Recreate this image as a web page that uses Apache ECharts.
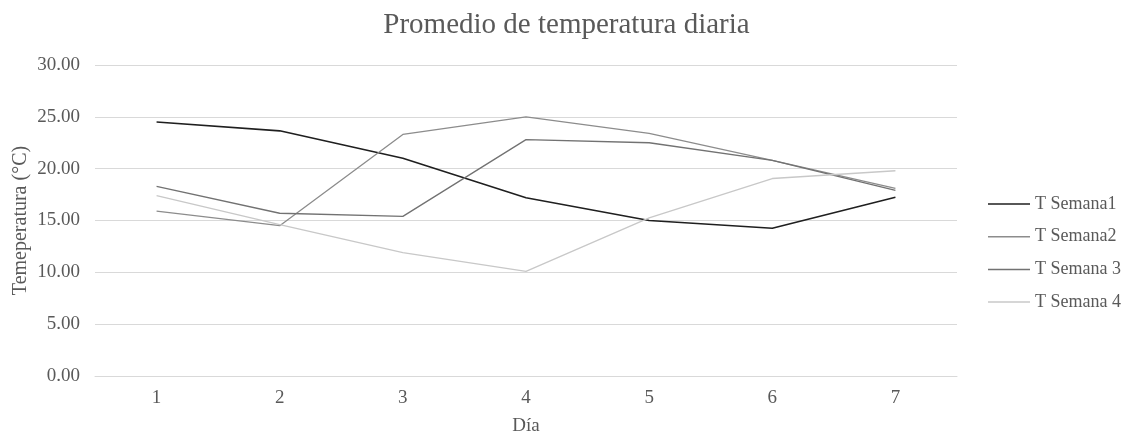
<!DOCTYPE html>
<html><head><meta charset="utf-8">
<script src="https://cdn.jsdelivr.net/npm/echarts@6/dist/echarts.min.js"></script>
<style>html,body{margin:0;padding:0;background:#fff}#c{width:1133px;height:435px}</style>
</head><body><div id="c"></div>
<script>
const categories = ['1','2','3','4','5','6','7'];
const semana1 = [24.5, 23.65, 21.0, 17.2, 15.0, 14.25, 17.25];
const semana2 = [15.9, 14.5, 23.3, 25.0, 23.4, 20.8, 18.1];
const semana3 = [18.3, 15.7, 15.4, 22.8, 22.5, 20.8, 17.9];
const semana4 = [17.4, 14.6, 11.9, 10.1, 15.25, 19.05, 19.8];
const names = ['T Semana1','T Semana2','T Semana 3','T Semana 4'];
const colors = ['#1f1f1f','#8c8c8c','#727272','#c8c8c8'];
const font = '"Liberation Serif", "Times New Roman", serif';
const data = [semana1, semana2, semana3, semana4];
const chart = echarts.init(document.getElementById('c'));
chart.setOption({
  animation: false,
  textStyle: {fontFamily: font},
  title: {text: 'Promedio de temperatura diaria', left: 'center', top: 6,
    textStyle: {fontFamily: font, fontSize: 29, fontWeight: 'normal', color: '#595959'}},
  grid: {left: 95, right: 176, top: 65, bottom: 59, outerBoundsMode: 'none', containLabel: false},
  legend: {orient: 'vertical', left: 983, top: 190, itemWidth: 42, itemHeight: 18, itemGap: 14.7,
    icon: 'path://M0,6L42,6L42,7.5L0,7.5Z',
    textStyle: {fontFamily: font, fontSize: 18, lineHeight: 18, color: '#595959'},
    data: names},
  xAxis: {type: 'category', data: categories, boundaryGap: true,
    name: 'Día', nameLocation: 'middle', nameGap: 41, nameMoveOverlap: false,
    nameTextStyle: {fontFamily: font, fontSize: 19, color: '#595959'},
    axisLine: {lineStyle: {color: '#d9d9d9'}}, axisTick: {show: false},
    axisLabel: {fontFamily: font, fontSize: 19, color: '#595959', margin: 13}},
  yAxis: {type: 'value', min: 0, max: 30, interval: 5,
    name: 'Temeperatura (°C)', nameLocation: 'middle', nameGap: 64, nameRotate: 90, nameMoveOverlap: false,
    nameTextStyle: {fontFamily: font, fontSize: 20, color: '#595959'},
    axisLine: {show: false}, axisTick: {show: false},
    splitLine: {lineStyle: {color: '#d9d9d9'}},
    axisLabel: {fontFamily: font, fontSize: 19, color: '#595959', margin: 15,
      formatter: v => v.toFixed(2)}},
  series: data.map((d, i) => ({
    name: names[i], type: 'line', data: d, symbol: 'none',
    lineStyle: {color: colors[i], width: i === 0 ? 1.6 : 1.3},
    itemStyle: {color: colors[i]}
  }))
});
</script></body></html>
